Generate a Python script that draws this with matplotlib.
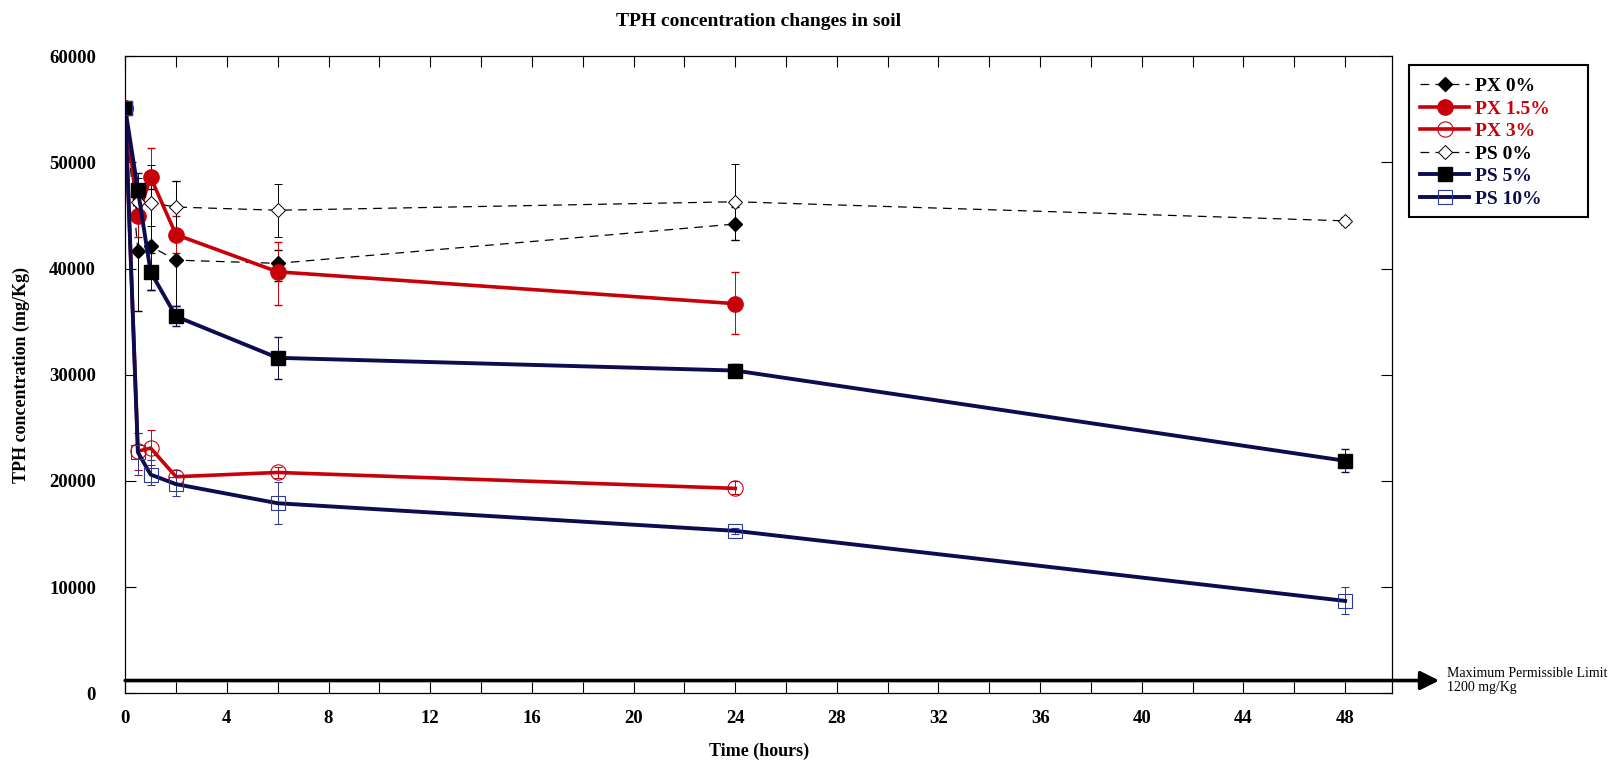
import matplotlib
matplotlib.use("Agg")
import matplotlib.pyplot as plt
from matplotlib.lines import Line2D
from matplotlib.patches import Rectangle
from matplotlib.ticker import MultipleLocator

plt.rcParams['font.family'] = ['Liberation Serif', 'DejaVu Serif']
plt.rcParams['font.weight'] = 'bold'

# sampling times (hours)
t_px = [0, 0.5, 1, 2, 6, 24]
t_ps = [0, 0.5, 1, 2, 6, 24, 48]

# PX series
px0 = [55100, 41700, 42100, 40800, 40500, 44200]
px0_lo = [55100, 36000, 38000, 36500, 38800, 42700]
px0_hi = [55100, 47500, 47500, 48300, 41800, 45800]

px15 = [55100, 45000, 48600, 43200, 39700, 36700]
px15_lo = [55100, 43000, 46000, 41500, 36600, 33800]
px15_hi = [55100, 47000, 51400, 45000, 42500, 39700]

px3 = [55100, 22800, 23100, 20400, 20800, 19300]
px3_lo = [55100, 21000, 21500, 19800, 20300, 18800]
px3_hi = [55100, 24500, 24800, 21000, 21300, 20000]

# PS series
ps0 = [55100, 46300, 46200, 45800, 45500, 46300, 44500]
ps0_lo = [55100, 44500, 44000, 43800, 43000, 42700, 44100]
ps0_hi = [55100, 48500, 49800, 48300, 48000, 49900, 44900]

ps5 = [55100, 47400, 39700, 35500, 31600, 30400, 21900]
ps5_lo = [55100, 45500, 38000, 34600, 29600, 29800, 20800]
ps5_hi = [55100, 49000, 41500, 36500, 33600, 31000, 23000]

ps10 = [55100, 22700, 20600, 19700, 17900, 15300, 8700]
ps10_lo = [55100, 20600, 19600, 18600, 15900, 15000, 7500]
ps10_hi = [55100, 24500, 22000, 21000, 19900, 15600, 10000]

limite = 1200

RED = '#c8000a'
NAVY = '#0c0c4e'
AZUL = '#2a3a9a'


def barras(m, lo, hi):
    return [[a - b for a, b in zip(m, lo)], [b - a for a, b in zip(m, hi)]]


estilos = [
    dict(color='black', ls=(0, (7, 5)), lw=0.9, marker='D', ms=7, mfc='black', mec='black'),
    dict(color=RED, ls='-', lw=2.6, marker='o', ms=11, mfc=RED, mec=RED),
    dict(color=RED, ls='-', lw=2.6, marker='o', ms=11, mfc='none', mec=RED, mew=0.8),
    dict(color='black', ls=(0, (7, 5)), lw=0.9, marker='D', ms=7, mfc='white', mec='black', mew=0.7),
    dict(color=NAVY, ls='-', lw=2.8, marker='s', ms=10, mfc='black', mec='black'),
    dict(color=NAVY, ls='-', lw=2.8, marker='s', ms=10, mfc='none', mec=AZUL, mew=0.8),
]
nomes = ['PX 0%', 'PX 1.5%', 'PX 3%', 'PS 0%', 'PS 5%', 'PS 10%']
cores_erro = ['black', RED, RED, 'black', NAVY, AZUL]
series = [
    (t_px, px0, px0_lo, px0_hi),
    (t_px, px15, px15_lo, px15_hi),
    (t_px, px3, px3_lo, px3_hi),
    (t_ps, ps0, ps0_lo, ps0_hi),
    (t_ps, ps5, ps5_lo, ps5_hi),
    (t_ps, ps10, ps10_lo, ps10_hi),
]

fig = plt.figure(figsize=(16.09, 7.61), dpi=100)
ax = fig.add_axes([0.0778, 0.089, 0.7876, 0.837])

for (t, m, lo, hi), est, ce in zip(series, estilos, cores_erro):
    ax.errorbar(t, m, yerr=barras(m, lo, hi), ecolor=ce, elinewidth=0.7, capsize=3, **est)

ax.set_xlim(0, 49.86)
ax.set_ylim(0, 60000)
ax.xaxis.set_major_locator(MultipleLocator(4))
ax.xaxis.set_minor_locator(MultipleLocator(2))
ax.yaxis.set_major_locator(MultipleLocator(10000))
ax.tick_params(which='both', direction='in', top=True, right=True, labelsize=13.5, length=8, width=0.8)
ax.tick_params(axis='x', pad=12)
ax.tick_params(axis='y', pad=21)
for s in ax.spines.values():
    s.set_linewidth(0.9)

ax.set_title('TPH concentration changes in soil', fontsize=14, fontweight='bold', pad=22)
ax.set_xlabel('Time (hours)', fontsize=13, fontweight='bold', labelpad=11)
ax.set_ylabel('TPH concentration (mg/Kg)', fontsize=13, fontweight='bold', labelpad=14)

# limite maximo permitido
ax.annotate('', xy=(51.7, limite), xytext=(0, limite), annotation_clip=False,
            arrowprops=dict(arrowstyle='-|>', lw=2.6, color='black', mutation_scale=28,
                            shrinkA=0, shrinkB=0))
ax.text(52.0, limite, 'Maximum Permissible Limit\n1200 mg/Kg', fontsize=10, fontweight='normal',
        va='center', ha='left', clip_on=False, linespacing=1.1)

# legenda com moldura propria (mais larga que o conteudo)
handles = [Line2D([], [], **est) for est in estilos]
leg = fig.legend(handles, nomes, loc='upper left', bbox_to_anchor=(0.8827, 0.898), borderaxespad=0,
                 fontsize=14, frameon=False, handlelength=2.5, borderpad=0,
                 labelspacing=0.25, handletextpad=0.3)
cores = ['black', RED, RED, 'black', NAVY, NAVY]
for txt, c in zip(leg.get_texts(), cores):
    txt.set_color(c)
    txt.set_fontweight('bold')
fig.patches.append(Rectangle((0.8756, 0.7143), 0.1116, 0.2008, transform=fig.transFigure,
                             fill=False, edgecolor='black', linewidth=1.5))

fig.savefig('out.png', dpi=100)
